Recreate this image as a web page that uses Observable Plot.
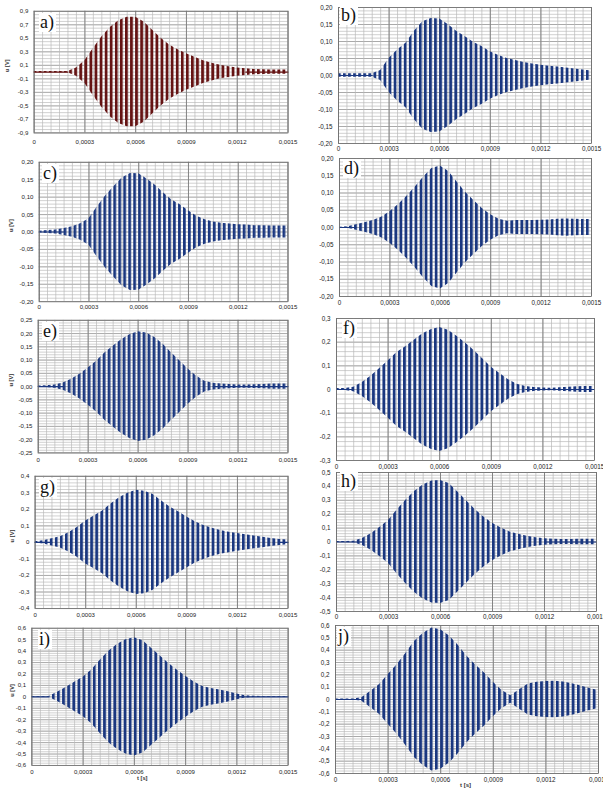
<!DOCTYPE html>
<html><head><meta charset="utf-8">
<script src="https://cdn.jsdelivr.net/npm/d3@7"></script>
<script src="https://cdn.jsdelivr.net/npm/@observablehq/plot@0.6"></script>
<style>
body{margin:0;background:#fff;}
#root{position:relative;width:603px;height:791px;overflow:hidden;background:#fff;}
.panel{position:absolute;overflow:hidden;}
.letter{position:absolute;background:#fff;font-family:"Liberation Serif","Times New Roman",serif;font-size:18px;line-height:18px;padding:0 2px 1px 1px;color:#111;}
</style></head><body><div id="root"></div>
<script>
// time samples [s]
const times = [0,0.00005,0.0001,0.00015,0.0002,0.00025,0.0003,0.00035,0.0004,0.00045,0.0005,0.00055,0.0006,0.00065,0.0007,0.00075,0.0008,0.00085,0.0009,0.00095,0.001,0.00105,0.0011,0.00115,0.0012,0.00125,0.0013,0.00135,0.0014,0.00145,0.0015];
// carrier period of the oscillation [s]
const carrierPeriod = 0.00003;
// envelope (peak amplitude, V) read at each time sample
const ampA = [0.01,0.01,0.01,0.01,0.01,0.06,0.17,0.35,0.52,0.66,0.76,0.81,0.81,0.74,0.62,0.50,0.40,0.33,0.27,0.22,0.17,0.13,0.10,0.08,0.06,0.05,0.04,0.035,0.03,0.03,0.03];
const ampB = [0.005,0.005,0.005,0.005,0.005,0.015,0.05,0.075,0.095,0.13,0.158,0.168,0.166,0.15,0.13,0.115,0.098,0.085,0.07,0.059,0.05,0.044,0.038,0.034,0.03,0.027,0.025,0.022,0.019,0.016,0.013];
const ampC = [0.002,0.004,0.006,0.01,0.015,0.024,0.038,0.072,0.103,0.13,0.155,0.168,0.167,0.152,0.134,0.112,0.092,0.078,0.061,0.045,0.035,0.029,0.025,0.023,0.021,0.02,0.018,0.018,0.017,0.017,0.017];
const ampD = [0.001,0.002,0.008,0.014,0.02,0.03,0.046,0.066,0.09,0.117,0.146,0.171,0.178,0.162,0.132,0.102,0.078,0.055,0.037,0.024,0.018,0.02,0.02,0.02,0.021,0.022,0.024,0.025,0.024,0.023,0.023];
const ampE = [0.002,0.003,0.006,0.014,0.028,0.047,0.07,0.096,0.127,0.152,0.177,0.196,0.207,0.202,0.185,0.16,0.128,0.098,0.066,0.04,0.02,0.013,0.01,0.008,0.006,0.006,0.007,0.008,0.01,0.01,0.01];
const ampF = [0.004,0.004,0.01,0.03,0.056,0.088,0.12,0.155,0.18,0.207,0.235,0.252,0.262,0.25,0.225,0.196,0.165,0.13,0.094,0.068,0.041,0.022,0.013,0.008,0.006,0.005,0.007,0.009,0.012,0.013,0.013];
const ampG = [0.004,0.01,0.022,0.034,0.058,0.09,0.13,0.16,0.19,0.233,0.27,0.298,0.315,0.31,0.29,0.25,0.215,0.185,0.154,0.125,0.103,0.085,0.072,0.062,0.054,0.046,0.039,0.032,0.024,0.018,0.014];
const ampH = [0.004,0.004,0.005,0.025,0.06,0.104,0.154,0.23,0.3,0.364,0.41,0.438,0.443,0.42,0.36,0.296,0.234,0.18,0.135,0.1,0.072,0.056,0.042,0.03,0.024,0.02,0.018,0.018,0.019,0.02,0.02];
const ampI = [0.003,0.003,0.004,0.04,0.083,0.128,0.172,0.235,0.32,0.4,0.458,0.5,0.517,0.49,0.425,0.36,0.293,0.235,0.18,0.13,0.09,0.073,0.06,0.045,0.025,0.01,0.005,0.003,0.003,0.003,0.003];
const ampJ = [0.004,0.005,0.005,0.015,0.065,0.12,0.2,0.28,0.37,0.47,0.535,0.58,0.565,0.515,0.44,0.35,0.28,0.215,0.14,0.073,0.03,0.08,0.125,0.14,0.145,0.147,0.142,0.128,0.11,0.09,0.073];
// tick values
const xTicks = [0,0.0003,0.0006,0.0009,0.0012,0.0015];
const ticksA = [-0.9,-0.7,-0.5,-0.3,-0.1,0.1,0.3,0.5,0.7,0.9];
const ticks020 = [-0.2,-0.15,-0.1,-0.05,0,0.05,0.1,0.15,0.2];
const ticks025 = [-0.25,-0.2,-0.15,-0.1,-0.05,0,0.05,0.1,0.15,0.2,0.25];
const ticks03 = [-0.3,-0.2,-0.1,0,0.1,0.2,0.3];
const ticks04 = [-0.4,-0.3,-0.2,-0.1,0,0.1,0.2,0.3,0.4];
const ticks05 = [-0.5,-0.4,-0.3,-0.2,-0.1,0,0.1,0.2,0.3,0.4,0.5];
const ticks06 = [-0.6,-0.5,-0.4,-0.3,-0.2,-0.1,0,0.1,0.2,0.3,0.4,0.5,0.6];
const letters = ["a)","b)","c)","d)","e)","f)","g)","h)","i)","j)"];

const BLUE = "#1a3780", RED = "#651313";
const fmt1 = v => v.toFixed(1).replace(".", ",");
const fmt2 = v => v.toFixed(2).replace(".", ",");
const fmt1z = v => v === 0 ? "0" : v.toFixed(1).replace(".", ",");
const fmtX = v => v === 0 ? "0" : v.toFixed(4).replace(".", ",");

const panels = [
  {amp: ampA, ticks: ticksA, lim: 0.9, minor: 0.05, fmt: fmt1, color: RED, fr: [35,298,11,137], xpad: 6.5, lt: [5,16.5], ux: 7, col: 0},
  {amp: ampB, ticks: ticks020, lim: 0.2, minor: 0.01, fmt: fmt2, color: BLUE, fr: [338,591,7,143], xpad: 3, lt: [3,14], col: 1},
  {amp: ampC, ticks: ticks020, lim: 0.2, minor: 0.01, fmt: fmt2, color: BLUE, fr: [40,297,162,306], xpad: 3.5, lt: [3,17], ux: 11, col: 0},
  {amp: ampD, ticks: ticks020, lim: 0.2, minor: 0.01, fmt: fmt2, color: BLUE, fr: [339,591,158,296], xpad: 4.5, lt: [5,16], col: 1},
  {amp: ampE, ticks: ticks025, lim: 0.25, minor: 0.01, fmt: fmt2, color: BLUE, fr: [39,297,320,457], xpad: 4.5, lt: [4,17], ux: 11, col: 0},
  {amp: ampF, ticks: ticks03, lim: 0.3, minor: 0.02, fmt: fmt1z, color: BLUE, fr: [336,594,318,460], xpad: 4, lt: [7,16], col: 1},
  {amp: ampG, ticks: ticks04, lim: 0.4, minor: 0.02, fmt: fmt1z, color: BLUE, fr: [36,298,476,613], xpad: 4, lt: [4,17], ux: 12, col: 0},
  {amp: ampH, ticks: ticks05, lim: 0.5, minor: 0.02, fmt: fmt1z, color: BLUE, fr: [336,596,472,611], xpad: 3.5, lt: [5,15], col: 1},
  {amp: ampI, ticks: ticks06, lim: 0.6, minor: 0.02, fmt: fmt1z, color: BLUE, fr: [33,300,628,771], xpad: 4.5, lt: [6,17], ux: 12, tx: 148, col: 0},
  {amp: ampJ, ticks: ticks06, lim: 0.6, minor: 0.02, fmt: fmt1z, color: BLUE, fr: [335,598,625,773], xpad: 4, lt: [3,17], tx: 465, col: 1}
];

const root = document.getElementById("root");
const mL = 40, mR = 16, mT = 6, mB = 24;
const minorX = d3.range(0, 31).map(k => k * 0.00005);
const ns = "http://www.w3.org/2000/svg";

panels.forEach((p, idx) => {
  const [x0, x1, y0, y1] = p.fr;
  const w = x1 - x0 + mL + mR, h = y1 - y0 + mT + mB;
  const left = x0 - mL, top = y0 - mT;
  const data = times.map((t, i) => ({t, hi: p.amp[i], lo: -p.amp[i]}));
  const n = Math.round(p.lim / p.minor);
  const minorY = d3.range(-n, n + 1).map(k => +(k * p.minor).toFixed(4));
  const pid = "pat" + idx;
  const quiet = p.lim * 0.06;
  const marks = [
    Plot.gridY(minorY, {stroke: "#b0b0b0", strokeOpacity: 1, strokeWidth: 0.6}),
    Plot.gridY(p.ticks, {stroke: "#9a9a9a", strokeOpacity: 1, strokeWidth: 0.7}),
    Plot.gridX(minorX, {stroke: "#b8b8b8", strokeOpacity: 1, strokeWidth: 0.7}),
    Plot.gridX(xTicks, {stroke: "#7a7a7a", strokeOpacity: 1, strokeWidth: 0.9}),
    Plot.line(data, {x: "t", y: d => d.hi < quiet ? 0 : NaN, stroke: p.color, strokeWidth: 1.1}),
    Plot.areaY(data, {x: "t", y1: "lo", y2: "hi", fill: `url(#${pid})`, curve: "linear"}),
    Plot.frame({stroke: "#707070", strokeWidth: 0.8})
  ];
  if (p.ux !== undefined) {
    marks.push(Plot.text(["u [V]"], {text: d => d, frameAnchor: "left", dx: p.ux - x0, rotate: -90, fontWeight: "bold", fontSize: 6, fill: "#333"}));
  }
  if (p.tx !== undefined) {
    marks.push(Plot.text(["t [s]"], {text: d => d, frameAnchor: "bottom", dx: p.tx - (x0 + x1) / 2, dy: 786 - y1, fontWeight: "bold", fontSize: 6, fill: "#333"}));
  }
  const chart = Plot.plot({
    width: w, height: h,
    marginLeft: mL, marginRight: mR, marginTop: mT, marginBottom: mB,
    style: {fontFamily: "'Liberation Sans', Arial, sans-serif", fontSize: "6.3px", background: "transparent", color: "#1a1a1a", overflow: "visible"},
    x: {domain: [0, 0.0015], ticks: xTicks, tickFormat: fmtX, tickSize: 0, tickPadding: p.xpad, label: null},
    y: {domain: [-p.lim, p.lim], ticks: p.ticks, tickFormat: p.fmt, tickSize: 0, tickPadding: 6, label: null},
    marks
  });
  const xs = chart.scale("x");
  const px0 = xs.apply(0), per = xs.apply(carrierPeriod) - xs.apply(0);
  const defs = document.createElementNS(ns, "defs");
  const pat = document.createElementNS(ns, "pattern");
  pat.setAttribute("id", pid);
  pat.setAttribute("patternUnits", "userSpaceOnUse");
  pat.setAttribute("x", px0);
  pat.setAttribute("y", 0);
  pat.setAttribute("width", per);
  pat.setAttribute("height", h);
  const r = document.createElementNS(ns, "rect");
  r.setAttribute("x", 0); r.setAttribute("y", 0);
  r.setAttribute("width", per * 0.55); r.setAttribute("height", h);
  r.setAttribute("fill", p.color);
  pat.appendChild(r); defs.appendChild(pat);
  chart.insertBefore(defs, chart.firstChild);

  const div = document.createElement("div");
  div.className = "panel";
  div.style.left = left + "px";
  div.style.top = top + "px";
  div.style.width = (p.col === 0 ? Math.min(w, 303 - left) : w) + "px";
  div.style.height = h + "px";
  div.appendChild(chart);
  const lt = document.createElement("div");
  lt.className = "letter";
  lt.textContent = letters[idx];
  lt.style.left = (mL + p.lt[0] - 1) + "px";
  lt.style.top = (mT + p.lt[1] - 15) + "px";
  div.appendChild(lt);
  root.appendChild(div);
});
</script>
</body></html>
